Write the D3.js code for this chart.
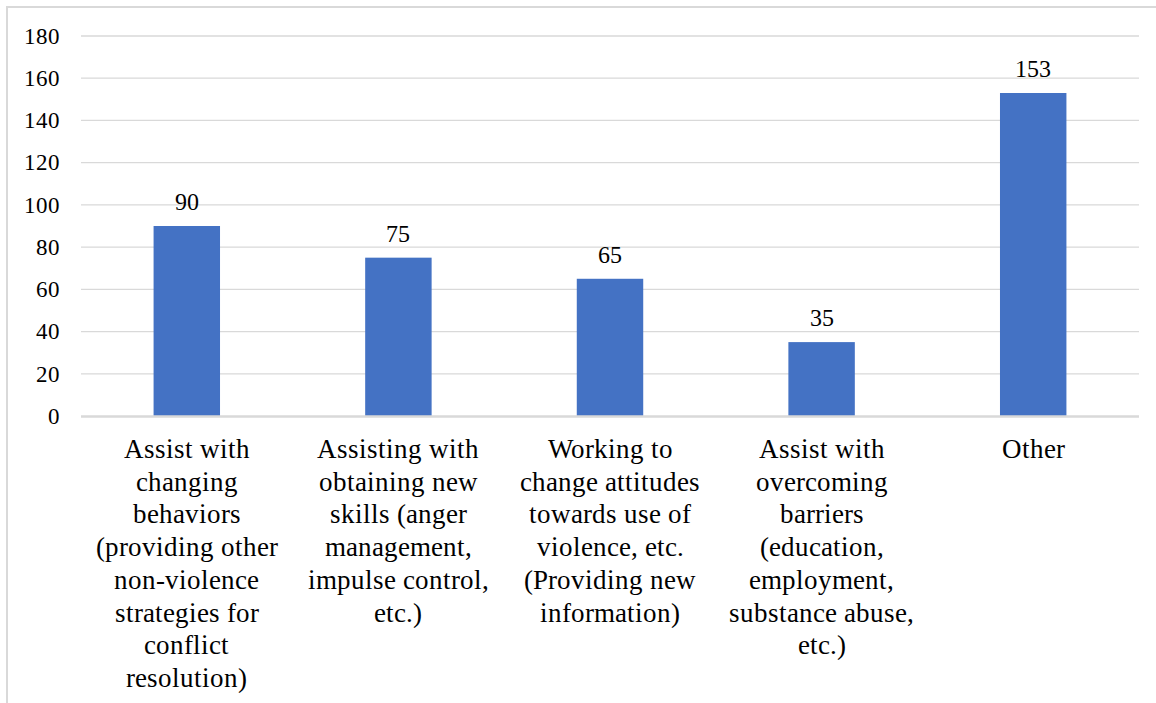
<!DOCTYPE html>
<html>
<head>
<meta charset="utf-8">
<script src="https://cdn.jsdelivr.net/npm/d3@7/dist/d3.min.js"></script>
<style>
  @font-face { font-family: "ChartSerif"; src: local("Liberation Serif"), local("LiberationSerif"), local("Tinos"); }
  html, body { margin: 0; padding: 0; background: #fff; }
  svg { display: block; }
  svg text { font-family: "ChartSerif", "Liberation Serif", "Times New Roman", Tinos !important; }
</style>
</head>
<body>
<svg id="chart" width="1156" height="703" font-family="Liberation Serif"></svg>
<script>
const categories = [
  "Assist with changing behaviors (providing other non-violence strategies for conflict resolution)",
  "Assisting with obtaining new skills (anger management, impulse control, etc.)",
  "Working to change attitudes towards use of violence, etc. (Providing new information)",
  "Assist with overcoming barriers (education, employment, substance abuse, etc.)",
  "Other"
];
const categoryLines = [
  ["Assist with", "changing", "behaviors", "(providing other", "non-violence", "strategies for", "conflict", "resolution)"],
  ["Assisting with", "obtaining new", "skills (anger", "management,", "impulse control,", "etc.)"],
  ["Working to", "change attitudes", "towards use of", "violence, etc.", "(Providing new", "information)"],
  ["Assist with", "overcoming", "barriers", "(education,", "employment,", "substance abuse,", "etc.)"],
  ["Other"]
];
const values = [90, 75, 65, 35, 153];
const yTicks = [0, 20, 40, 60, 80, 100, 120, 140, 160, 180];

const svg = d3.select("#chart");
const chartW = 1156, chartH = 703;
const pLeft = 81, pRight = 1139, pTop = 36, pBottom = 416;

svg.append("rect")
  .attr("x", 7).attr("y", 7)
  .attr("width", chartW + 10).attr("height", chartH + 10)
  .attr("fill", "none").attr("stroke", "#d9d9d9").attr("stroke-width", 2);

const x = d3.scaleBand().domain(categories).range([pLeft, pRight]).paddingInner(0.686).paddingOuter(0.343);
const y = d3.scaleLinear().domain([0, 180]).range([pBottom, pTop]);

svg.append("g").selectAll("line").data(yTicks.filter(d => d !== 0)).join("line")
  .attr("x1", pLeft).attr("x2", pRight)
  .attr("y1", d => y(d)).attr("y2", d => y(d))
  .attr("stroke", "#d9d9d9").attr("stroke-width", 1.3);

// y tick labels
svg.append("g").selectAll("text").data(yTicks).join("text")
  .attr("x", pLeft - 21)
  .attr("y", d => y(d))
  .attr("dy", "0.34em")
  .attr("text-anchor", "end")
  .attr("font-family", "Liberation Serif")
  .attr("font-size", 23)
  .attr("fill", "#000")
  .text(d => d3.format("d")(d));

// bars
svg.append("g").selectAll("rect").data(values).join("rect")
  .attr("x", (d, i) => x(categories[i]))
  .attr("y", d => y(d))
  .attr("width", x.bandwidth())
  .attr("height", d => y(0) - y(d))
  .attr("fill", "#4472C4");

// baseline
svg.append("line")
  .attr("x1", pLeft).attr("x2", pRight)
  .attr("y1", y(0) + 0.5).attr("y2", y(0) + 0.5)
  .attr("stroke", "#d9d9d9").attr("stroke-width", 2.5);

// data labels
svg.append("g").selectAll("text").data(values).join("text")
  .attr("x", (d, i) => x(categories[i]) + x.bandwidth() / 2)
  .attr("y", d => y(d) - 16)
  .attr("text-anchor", "middle")
  .attr("font-family", "Liberation Serif")
  .attr("font-size", 24)
  .attr("fill", "#000")
  .text(d => d);

// category labels
const cat = svg.append("g").selectAll("text").data(categories).join("text")
  .attr("text-anchor", "middle")
  .attr("font-family", "Liberation Serif")
  .attr("font-size", 27)
  .attr("fill", "#000");
cat.each(function (d, i) {
  const cx = x(d) + x.bandwidth() / 2;
  categoryLines[i].forEach((ln, k) => {
    d3.select(this).append("tspan")
      .attr("x", cx)
      .attr("y", pBottom + 42 + k * 32.7)
      .text(ln);
  });
});
</script>
</body>
</html>
